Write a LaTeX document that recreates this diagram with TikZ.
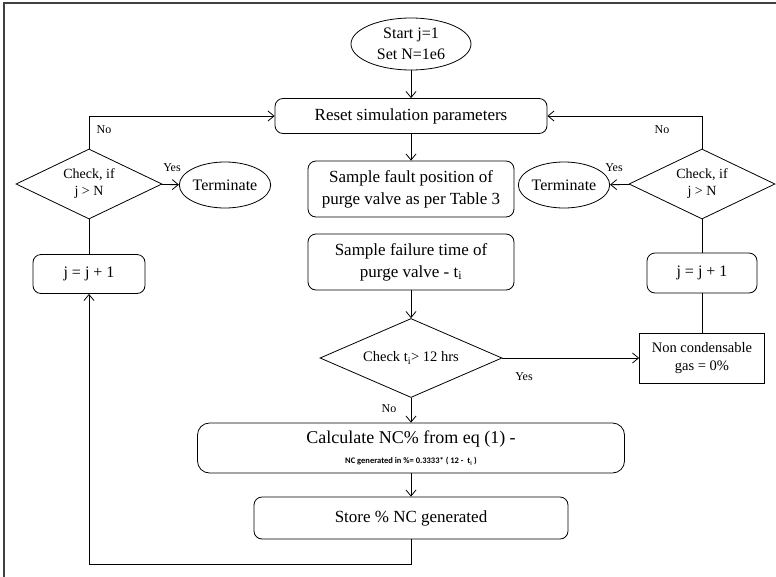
\documentclass[tikz,border=0pt]{standalone}
\usepackage{fontspec}
\setmainfont{Liberation Serif}
\newfontfamily\eqfont{Carlito}
\usetikzlibrary{shapes.geometric,arrows.meta}

\begin{document}
\begin{tikzpicture}[x=1pt,y=-1pt,line width=0.8pt,
  >={Straight Barb[length=6pt,width=10pt]},
  box/.style={draw,rounded corners=8pt,inner sep=0pt,align=center,
    font=\fontsize{17}{22}\selectfont},
  test/.style={draw,diamond,aspect=2,inner sep=0pt,align=center,
    font=\fontsize{14}{17}\selectfont},
  oval/.style={draw,ellipse,inner sep=0pt,align=center,
    font=\fontsize{16}{21}\selectfont},
  tag/.style={font=\fontsize{12}{14}\selectfont}]
  \useasboundingbox (0,0) rectangle (776,576);
  \draw[line width=1.6pt,black!75] (4,3) rectangle (800,600);

  % middle column
  \node[oval,minimum width=120pt,minimum height=52pt] (start) at (411,44) {Start j=1\\Set N=1e6};
  \node[box,minimum width=272pt,minimum height=35pt] (reset) at (411,116) {Reset simulation parameters};
  \node[box,minimum width=206pt,minimum height=56pt] (fault) at (411,189) {Sample fault position of\\purge valve as per Table 3};
  \node[box,minimum width=206pt,minimum height=56pt] (failure) at (411,262) {Sample failure time of\\purge valve - t\textsubscript{i}};
  \node[test,aspect=2.3,minimum width=182pt,minimum height=79pt,
    font=\fontsize{14.5}{17}\selectfont] (check) at (411,358) {Check t\textsubscript{i}> 12 hrs};
  \node[box,rounded corners=12pt,minimum width=427pt,minimum height=50pt,
    font=\fontsize{18}{20}\selectfont] (calc) at (411,448)
    {Calculate NC\% from eq (1) -\\{\eqfont\bfseries\fontsize{8.5}{10}\selectfont NC generated in \%= 0.3333* ( 12 -\ \ t\textsubscript{i} )}};
  \node[box,minimum width=314pt,minimum height=42pt] (store) at (411,518) {Store \% NC generated};
  \coordinate (back) at (411,564);

  % left loop
  \node[test,minimum width=146pt,minimum height=70pt] (lcheck) at (89,184) {Check, if\\j > N};
  \node[oval,minimum width=88pt,minimum height=46pt] (lstop) at (225,185) {Terminate};
  \node[box,minimum width=112pt,minimum height=39pt,font=\fontsize{16}{19}\selectfont] (lstep) at (89,274) {j = j + 1};

  % right loop
  \node[test,minimum width=146pt,minimum height=70pt] (rcheck) at (702,184) {Check, if\\j > N};
  \node[oval,minimum width=86pt,minimum height=46pt] (rstop) at (564,185) {Terminate};
  \node[box,minimum width=110pt,minimum height=40pt,font=\fontsize{16}{19}\selectfont] (rstep) at (702,273) {j = j + 1};
  \node[draw,minimum width=125pt,minimum height=50pt,inner sep=0pt,align=center,
    font=\fontsize{14.5}{18}\selectfont] (gas) at (702,358) {Non condensable\\gas = 0\%};

  \draw[->] (start) -- (reset);
  \draw[->] (reset) -- (fault);
  \draw[->] (failure) -- (check);
  \draw[->] (check) -- (calc);
  \draw[->] (calc) -- (store);
  \draw[->] (check) -- (gas);
  \draw[->] (store) -- (back) -| (lstep);
  \draw (lstep) -- (lcheck);
  \draw[->] (lcheck) |- (reset);
  \draw[->] (lcheck) -- (lstop);
  \draw (gas) -- (rstep);
  \draw (rstep) -- (rcheck);
  \draw[->] (rcheck) |- (reset);
  \draw[->] (rcheck) -- (rstop);

  \node[tag] (lno) at (104,130) {No};
  \node[tag] (lyes) at (172,168) {Yes};
  \node[tag] (rno) at (662,130) {No};
  \node[tag] (ryes) at (614,168) {Yes};
  \node[tag] (cyes) at (524,377) {Yes};
  \node[tag] (cno) at (389,409) {No};
\end{tikzpicture}
\end{document}
